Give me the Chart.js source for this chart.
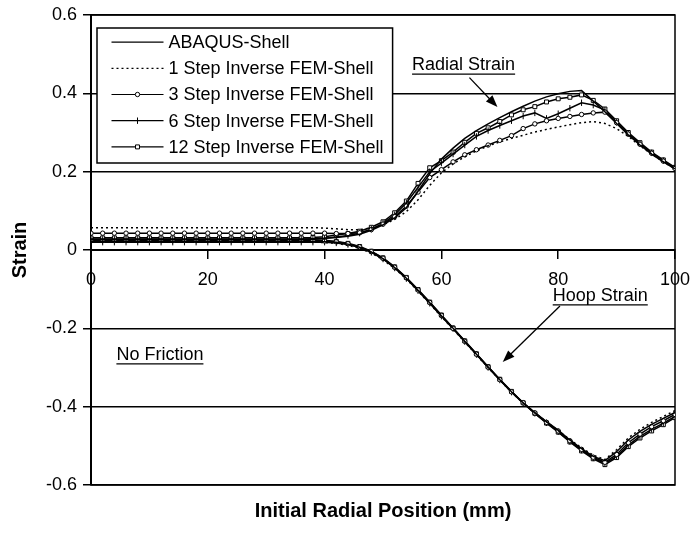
<!DOCTYPE html>
<html><head><meta charset="utf-8">
<script src="https://cdn.jsdelivr.net/npm/chart.js@4.4.0/dist/chart.umd.min.js"></script>
<style>html,body{margin:0;padding:0;background:#fff;}</style>
</head><body>
<canvas id="c" width="691" height="533"></canvas>
<script>
// Initial radial position (mm)
const positions = [0,2,4,6,8,10,12,14,16,18,20,22,24,26,28,30,32,34,36,38,40,42,44,46,48,50,52,54,56,58,60,62,64,66,68,70,72,74,76,78,80,82,84,86,88,90,92,94,96,98,100];

const seriesNames = ['ABAQUS-Shell','1 Step Inverse FEM-Shell','3 Step Inverse FEM-Shell','6 Step Inverse FEM-Shell','12 Step Inverse FEM-Shell'];

// Radial strain
const radialAbaqus = [0.028,0.028,0.028,0.028,0.028,0.028,0.028,0.028,0.028,0.028,0.028,0.028,0.028,0.028,0.028,0.028,0.028,0.028,0.028,0.029,0.030,0.032,0.035,0.040,0.050,0.064,0.082,0.108,0.150,0.195,0.232,0.260,0.285,0.305,0.322,0.338,0.353,0.367,0.380,0.391,0.399,0.405,0.407,0.380,0.353,0.323,0.294,0.268,0.245,0.225,0.207];
const radialStep1 = [0.057,0.057,0.057,0.057,0.057,0.057,0.057,0.057,0.057,0.057,0.057,0.057,0.057,0.057,0.057,0.057,0.057,0.057,0.057,0.057,0.056,0.054,0.052,0.052,0.056,0.064,0.078,0.098,0.128,0.165,0.197,0.220,0.238,0.253,0.266,0.276,0.285,0.293,0.301,0.308,0.314,0.320,0.325,0.328,0.323,0.310,0.290,0.266,0.245,0.225,0.207];
const radialStep3 = [0.043,0.043,0.043,0.043,0.043,0.043,0.043,0.043,0.043,0.043,0.043,0.043,0.043,0.043,0.043,0.043,0.043,0.043,0.043,0.043,0.043,0.042,0.042,0.044,0.052,0.066,0.085,0.112,0.148,0.185,0.205,0.225,0.243,0.256,0.268,0.280,0.292,0.310,0.322,0.330,0.336,0.341,0.346,0.350,0.352,0.325,0.296,0.270,0.247,0.227,0.208];
const radialStep6 = [0.027,0.027,0.027,0.027,0.027,0.027,0.027,0.027,0.027,0.027,0.027,0.027,0.027,0.027,0.027,0.027,0.027,0.027,0.027,0.028,0.030,0.033,0.037,0.043,0.053,0.068,0.090,0.120,0.160,0.200,0.222,0.245,0.268,0.290,0.305,0.318,0.330,0.342,0.350,0.336,0.348,0.362,0.376,0.370,0.357,0.326,0.297,0.271,0.248,0.228,0.209];
const radialStep12 = [0.031,0.031,0.031,0.031,0.031,0.031,0.031,0.031,0.031,0.031,0.031,0.031,0.031,0.031,0.031,0.031,0.031,0.031,0.031,0.032,0.034,0.038,0.042,0.048,0.058,0.072,0.095,0.125,0.170,0.210,0.228,0.250,0.275,0.298,0.312,0.328,0.345,0.358,0.366,0.378,0.386,0.390,0.396,0.382,0.360,0.330,0.300,0.274,0.250,0.230,0.211];

// Hoop strain
const hoopAbaqus = [0.022,0.022,0.022,0.022,0.022,0.022,0.022,0.022,0.022,0.022,0.022,0.022,0.022,0.022,0.022,0.022,0.022,0.022,0.022,0.022,0.021,0.020,0.015,0.007,-0.005,-0.022,-0.045,-0.072,-0.103,-0.135,-0.168,-0.200,-0.233,-0.266,-0.299,-0.331,-0.362,-0.390,-0.415,-0.438,-0.460,-0.485,-0.507,-0.527,-0.538,-0.515,-0.485,-0.463,-0.445,-0.430,-0.415];
const hoopStep1 = [0.020,0.020,0.020,0.020,0.020,0.020,0.020,0.020,0.020,0.020,0.020,0.020,0.020,0.020,0.020,0.020,0.020,0.020,0.020,0.020,0.019,0.017,0.012,0.004,-0.008,-0.025,-0.047,-0.074,-0.105,-0.137,-0.170,-0.202,-0.235,-0.268,-0.300,-0.332,-0.363,-0.391,-0.416,-0.439,-0.461,-0.484,-0.505,-0.524,-0.535,-0.510,-0.480,-0.458,-0.440,-0.425,-0.410];
const hoopStep3 = [0.024,0.024,0.024,0.024,0.024,0.024,0.024,0.024,0.024,0.024,0.024,0.024,0.024,0.024,0.024,0.024,0.024,0.024,0.024,0.024,0.023,0.021,0.016,0.008,-0.004,-0.021,-0.044,-0.071,-0.102,-0.134,-0.167,-0.200,-0.233,-0.266,-0.299,-0.331,-0.362,-0.390,-0.416,-0.440,-0.462,-0.487,-0.509,-0.529,-0.542,-0.522,-0.492,-0.470,-0.451,-0.436,-0.420];
const hoopStep6 = [0.020,0.020,0.020,0.020,0.020,0.020,0.020,0.020,0.020,0.020,0.020,0.020,0.020,0.020,0.020,0.020,0.020,0.020,0.020,0.020,0.020,0.018,0.014,0.006,-0.006,-0.023,-0.046,-0.073,-0.104,-0.136,-0.169,-0.201,-0.234,-0.267,-0.300,-0.332,-0.363,-0.391,-0.417,-0.441,-0.464,-0.489,-0.511,-0.531,-0.545,-0.527,-0.498,-0.476,-0.458,-0.442,-0.425];
const hoopStep12 = [0.026,0.026,0.026,0.026,0.026,0.026,0.026,0.026,0.026,0.026,0.026,0.026,0.026,0.026,0.026,0.026,0.026,0.026,0.026,0.026,0.025,0.022,0.017,0.009,-0.003,-0.020,-0.043,-0.070,-0.101,-0.133,-0.166,-0.199,-0.232,-0.265,-0.298,-0.330,-0.361,-0.390,-0.417,-0.442,-0.465,-0.490,-0.513,-0.533,-0.548,-0.530,-0.502,-0.480,-0.462,-0.446,-0.428];

const yTicks = [-0.6,-0.4,-0.2,0,0.2,0.4,0.6];
const xTicks = [0,20,40,60,80,100];

const radialSets = [radialAbaqus, radialStep1, radialStep3, radialStep6, radialStep12];
const hoopSets = [hoopAbaqus, hoopStep1, hoopStep3, hoopStep6, hoopStep12];

const FONT = '"Liberation Sans", Arial, sans-serif';

const styles = [
  {borderDash: [], pointStyle: 'circle', pointRadius: 0, rotation: 0},
  {borderDash: [2, 3], pointStyle: 'circle', pointRadius: 0, rotation: 0},
  {borderDash: [], pointStyle: 'circle', pointRadius: 2.2, rotation: 0},
  {borderDash: [], pointStyle: 'line', pointRadius: 3.2, rotation: 90},
  {borderDash: [], pointStyle: 'rect', pointRadius: 2.8, rotation: 0}
];

function toXY(arr) { return positions.map((x, i) => ({x: x, y: arr[i]})); }

const datasets = [];
[radialSets, hoopSets].forEach((group, gi) => {
  group.forEach((arr, i) => {
    const st = styles[i];
    datasets.push({
      label: seriesNames[i],
      data: toXY(arr),
      borderColor: '#000',
      backgroundColor: '#fff',
      borderWidth: 1.5,
      borderDash: st.borderDash,
      pointStyle: st.pointStyle,
      pointRadius: st.pointRadius,
      pointRotation: st.rotation,
      pointBorderWidth: 1,
      pointBackgroundColor: '#fff',
      pointBorderColor: '#000',
      tension: 0,
      showInLegend: gi === 0
    });
  });
});

const annotations = [
  {text: 'Radial Strain', x: 63.8, y: 0.472, arrow: [[64.8, 0.44], [69.6, 0.365]]},
  {text: 'Hoop Strain', x: 87.2, y: -0.117, arrow: [[80.3, -0.143], [70.5, -0.286]]},
  {text: 'No Friction', x: 11.8, y: -0.268, arrow: null}
];

const framePlugin = {
  id: 'frame',
  beforeDatasetsDraw(chart) {
    const {ctx, chartArea: a} = chart;
    ctx.save();
    ctx.strokeStyle = '#000';
    ctx.lineWidth = 1.5;
    ctx.strokeRect(a.left, a.top, a.right - a.left, a.bottom - a.top);
    ctx.restore();
  }
};

const annotationPlugin = {
  id: 'notes',
  afterDatasetsDraw(chart) {
    const {ctx} = chart;
    const xs = chart.scales.x, ys = chart.scales.y;
    ctx.save();
    ctx.fillStyle = '#000';
    ctx.strokeStyle = '#000';
    ctx.font = '18px ' + FONT;
    ctx.textAlign = 'center';
    ctx.textBaseline = 'middle';
    annotations.forEach(a => {
      const px = xs.getPixelForValue(a.x), py = ys.getPixelForValue(a.y);
      ctx.fillText(a.text, px, py);
      const w = ctx.measureText(a.text).width;
      ctx.lineWidth = 1.2;
      ctx.beginPath();
      ctx.moveTo(px - w / 2, py + 9);
      ctx.lineTo(px + w / 2, py + 9);
      ctx.stroke();
      if (a.arrow) {
        const x1 = xs.getPixelForValue(a.arrow[0][0]), y1 = ys.getPixelForValue(a.arrow[0][1]);
        const x2 = xs.getPixelForValue(a.arrow[1][0]), y2 = ys.getPixelForValue(a.arrow[1][1]);
        const ang = Math.atan2(y2 - y1, x2 - x1);
        ctx.lineWidth = 1.3;
        ctx.beginPath();
        ctx.moveTo(x1, y1);
        ctx.lineTo(x2 - 6 * Math.cos(ang), y2 - 6 * Math.sin(ang));
        ctx.stroke();
        ctx.beginPath();
        ctx.moveTo(x2, y2);
        ctx.lineTo(x2 - 12 * Math.cos(ang) + 4.5 * Math.sin(ang), y2 - 12 * Math.sin(ang) - 4.5 * Math.cos(ang));
        ctx.lineTo(x2 - 12 * Math.cos(ang) - 4.5 * Math.sin(ang), y2 - 12 * Math.sin(ang) + 4.5 * Math.cos(ang));
        ctx.closePath();
        ctx.fill();
      }
    });
    ctx.restore();
  }
};

const legendPlugin = {
  id: 'customLegend',
  afterDraw(chart) {
    const {ctx, chartArea: a} = chart;
    const items = chart.data.datasets.filter(d => d.showInLegend);
    ctx.save();
    ctx.font = '18px ' + FONT;
    const rowH = 26.2;
    const lineLen = 52;
    const padL = 14.5, gap = 5, padR = 9, padT = 1, padB = 3;
    let maxW = 0;
    items.forEach(d => { maxW = Math.max(maxW, ctx.measureText(d.label).width); });
    const bx = a.left + 6, by = a.top + 13;
    const bw = padL + lineLen + gap + maxW + padR;
    const bh = padT + padB + rowH * items.length;
    ctx.fillStyle = '#fff';
    ctx.fillRect(bx, by, bw, bh);
    ctx.strokeStyle = '#000';
    ctx.lineWidth = 1.5;
    ctx.strokeRect(bx, by, bw, bh);
    items.forEach((d, i) => {
      const cy = by + padT + rowH * (i + 0.5);
      const lx = bx + padL;
      ctx.strokeStyle = '#000';
      ctx.lineWidth = 1.2;
      ctx.setLineDash(d.borderDash || []);
      ctx.beginPath();
      ctx.moveTo(lx, cy);
      ctx.lineTo(lx + lineLen, cy);
      ctx.stroke();
      ctx.setLineDash([]);
      if (d.pointRadius > 0) {
        ctx.fillStyle = '#fff';
        ctx.strokeStyle = '#000';
        ctx.lineWidth = 1;
        Chart.helpers.drawPoint(ctx, {pointStyle: d.pointStyle, radius: d.pointRadius, rotation: d.pointRotation, borderWidth: 1}, lx + lineLen / 2, cy);
      }
      ctx.fillStyle = '#000';
      ctx.textAlign = 'left';
      ctx.textBaseline = 'middle';
      ctx.fillText(d.label, lx + lineLen + gap, cy + 1);
    });
    ctx.restore();
  }
};

new Chart(document.getElementById('c'), {
  type: 'line',
  data: {datasets: datasets},
  plugins: [framePlugin, annotationPlugin, legendPlugin],
  options: {
    responsive: false,
    animation: false,
    devicePixelRatio: 1,
    layout: {padding: {top: 15, right: 16, left: 0, bottom: 0}},
    plugins: {legend: {display: false}, tooltip: {enabled: false}},
    elements: {line: {fill: false}},
    scales: {
      x: {
        type: 'linear', min: 0, max: 100,
        position: {y: 0},
        afterBuildTicks(s) { s.ticks = xTicks.map(v => ({value: v})); },
        ticks: {color: '#000', font: {size: 18, family: FONT}, padding: 11, maxRotation: 0},
        grid: {drawOnChartArea: false, drawTicks: true, tickLength: 8, color: '#000', lineWidth: 1.5},
        border: {display: true, color: '#000', width: 2},
        afterFit(s) { s.paddingLeft = 0; s.paddingRight = 0; }
      },
      xTitle: {
        type: 'linear', axis: 'x', position: 'bottom', min: 0, max: 100,
        ticks: {display: false}, grid: {display: false}, border: {display: false},
        title: {display: true, text: 'Initial Radial Position (mm)', color: '#000', font: {size: 20, weight: 'bold', family: FONT}, padding: {top: 0, bottom: 10}},
        afterFit(s) { s.height = 48; s.paddingLeft = 0; s.paddingRight = 0; }
      },
      y: {
        type: 'linear', min: -0.6, max: 0.6,
        afterBuildTicks(s) { s.ticks = yTicks.map(v => ({value: v})); },
        ticks: {color: '#000', font: {size: 18, family: FONT}, padding: 6,
          callback: v => String(Math.round(v * 10) / 10)},
        grid: {color: '#000', lineWidth: 1.5, tickLength: 8, drawTicks: true},
        border: {display: true, color: '#000', width: 2},
        title: {display: true, text: 'Strain', color: '#000', font: {size: 20, weight: 'bold', family: FONT}, padding: {top: 8, bottom: 0}},
        afterFit(s) { s.width = 91; s.paddingTop = 0; s.paddingBottom = 0; }
      }
    }
  }
});
</script>
</body></html>
